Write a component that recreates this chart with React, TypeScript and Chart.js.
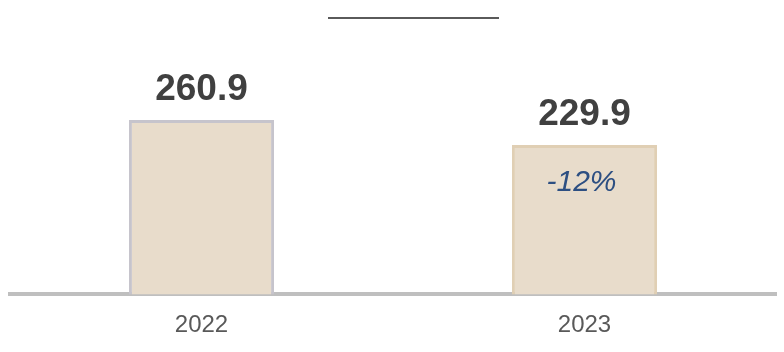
import React, { useEffect, useRef } from "react";
import { Chart, registerables } from "chart.js";

Chart.register(...registerables);

const categories = ["2022", "2023"];
const values = [260.9, 229.9];
const changeLabels = ["", "-12%"];

const valueLabelPlugin = {
  id: "valueLabels",
  afterDatasetsDraw(chart: any) {
    const { ctx } = chart;
    const meta = chart.getDatasetMeta(0);
    ctx.save();
    meta.data.forEach((bar: any, i: number) => {
      ctx.font = "bold 37px 'Liberation Sans', Arial, sans-serif";
      ctx.fillStyle = "#404040";
      ctx.textAlign = "center";
      ctx.textBaseline = "middle";
      ctx.fillText(values[i].toFixed(1), bar.x, bar.y - 30);
      if (changeLabels[i]) {
        ctx.font = "italic 30px 'Liberation Sans', Arial, sans-serif";
        ctx.fillStyle = "#2d4f82";
        ctx.fillText(changeLabels[i], bar.x - 3, bar.y + 38);
      }
    });
    ctx.restore();
  },
};

export default function App() {
  const ref = useRef<HTMLCanvasElement>(null);
  useEffect(() => {
    const chart = new Chart(ref.current!, {
      type: "bar",
      data: {
        labels: categories,
        datasets: [
          {
            data: values,
            backgroundColor: "#e8dccb",
            borderColor: ["#c6c4cc", "#e0cfb4"],
            borderWidth: 3,
            borderSkipped: false,
            barPercentage: 0.379,
            categoryPercentage: 1,
          },
        ],
      },
      options: {
        animation: false,
        responsive: false,
        maintainAspectRatio: false,
        layout: { padding: { left: 10, right: 8, top: 40, bottom: -5 } },
        plugins: { legend: { display: false }, tooltip: { enabled: false }, title: { display: false } },
        scales: {
          x: {
            grid: { display: false, drawTicks: false },
            border: { display: true, color: "#bfbfbf", width: 4 },
            ticks: {
              color: "#595959",
              font: { size: 24, family: "'Liberation Sans', Arial, sans-serif" },
              padding: 17,
            },
          },
          y: { display: false, min: 45, max: 360 },
        },
      },
      plugins: [valueLabelPlugin],
    });
    return () => chart.destroy();
  }, []);
  return (
    <div style={{ position: "fixed", left: 0, top: 0, width: 784, height: 352, background: "#fff" }}>
      <div style={{ position: "absolute", left: 328, top: 17, width: 171, height: 2, background: "#5a5a5a" }} />
      <canvas ref={ref} width={784} height={352} style={{ position: "absolute", left: 0, top: 0 }} />
    </div>
  );
}
